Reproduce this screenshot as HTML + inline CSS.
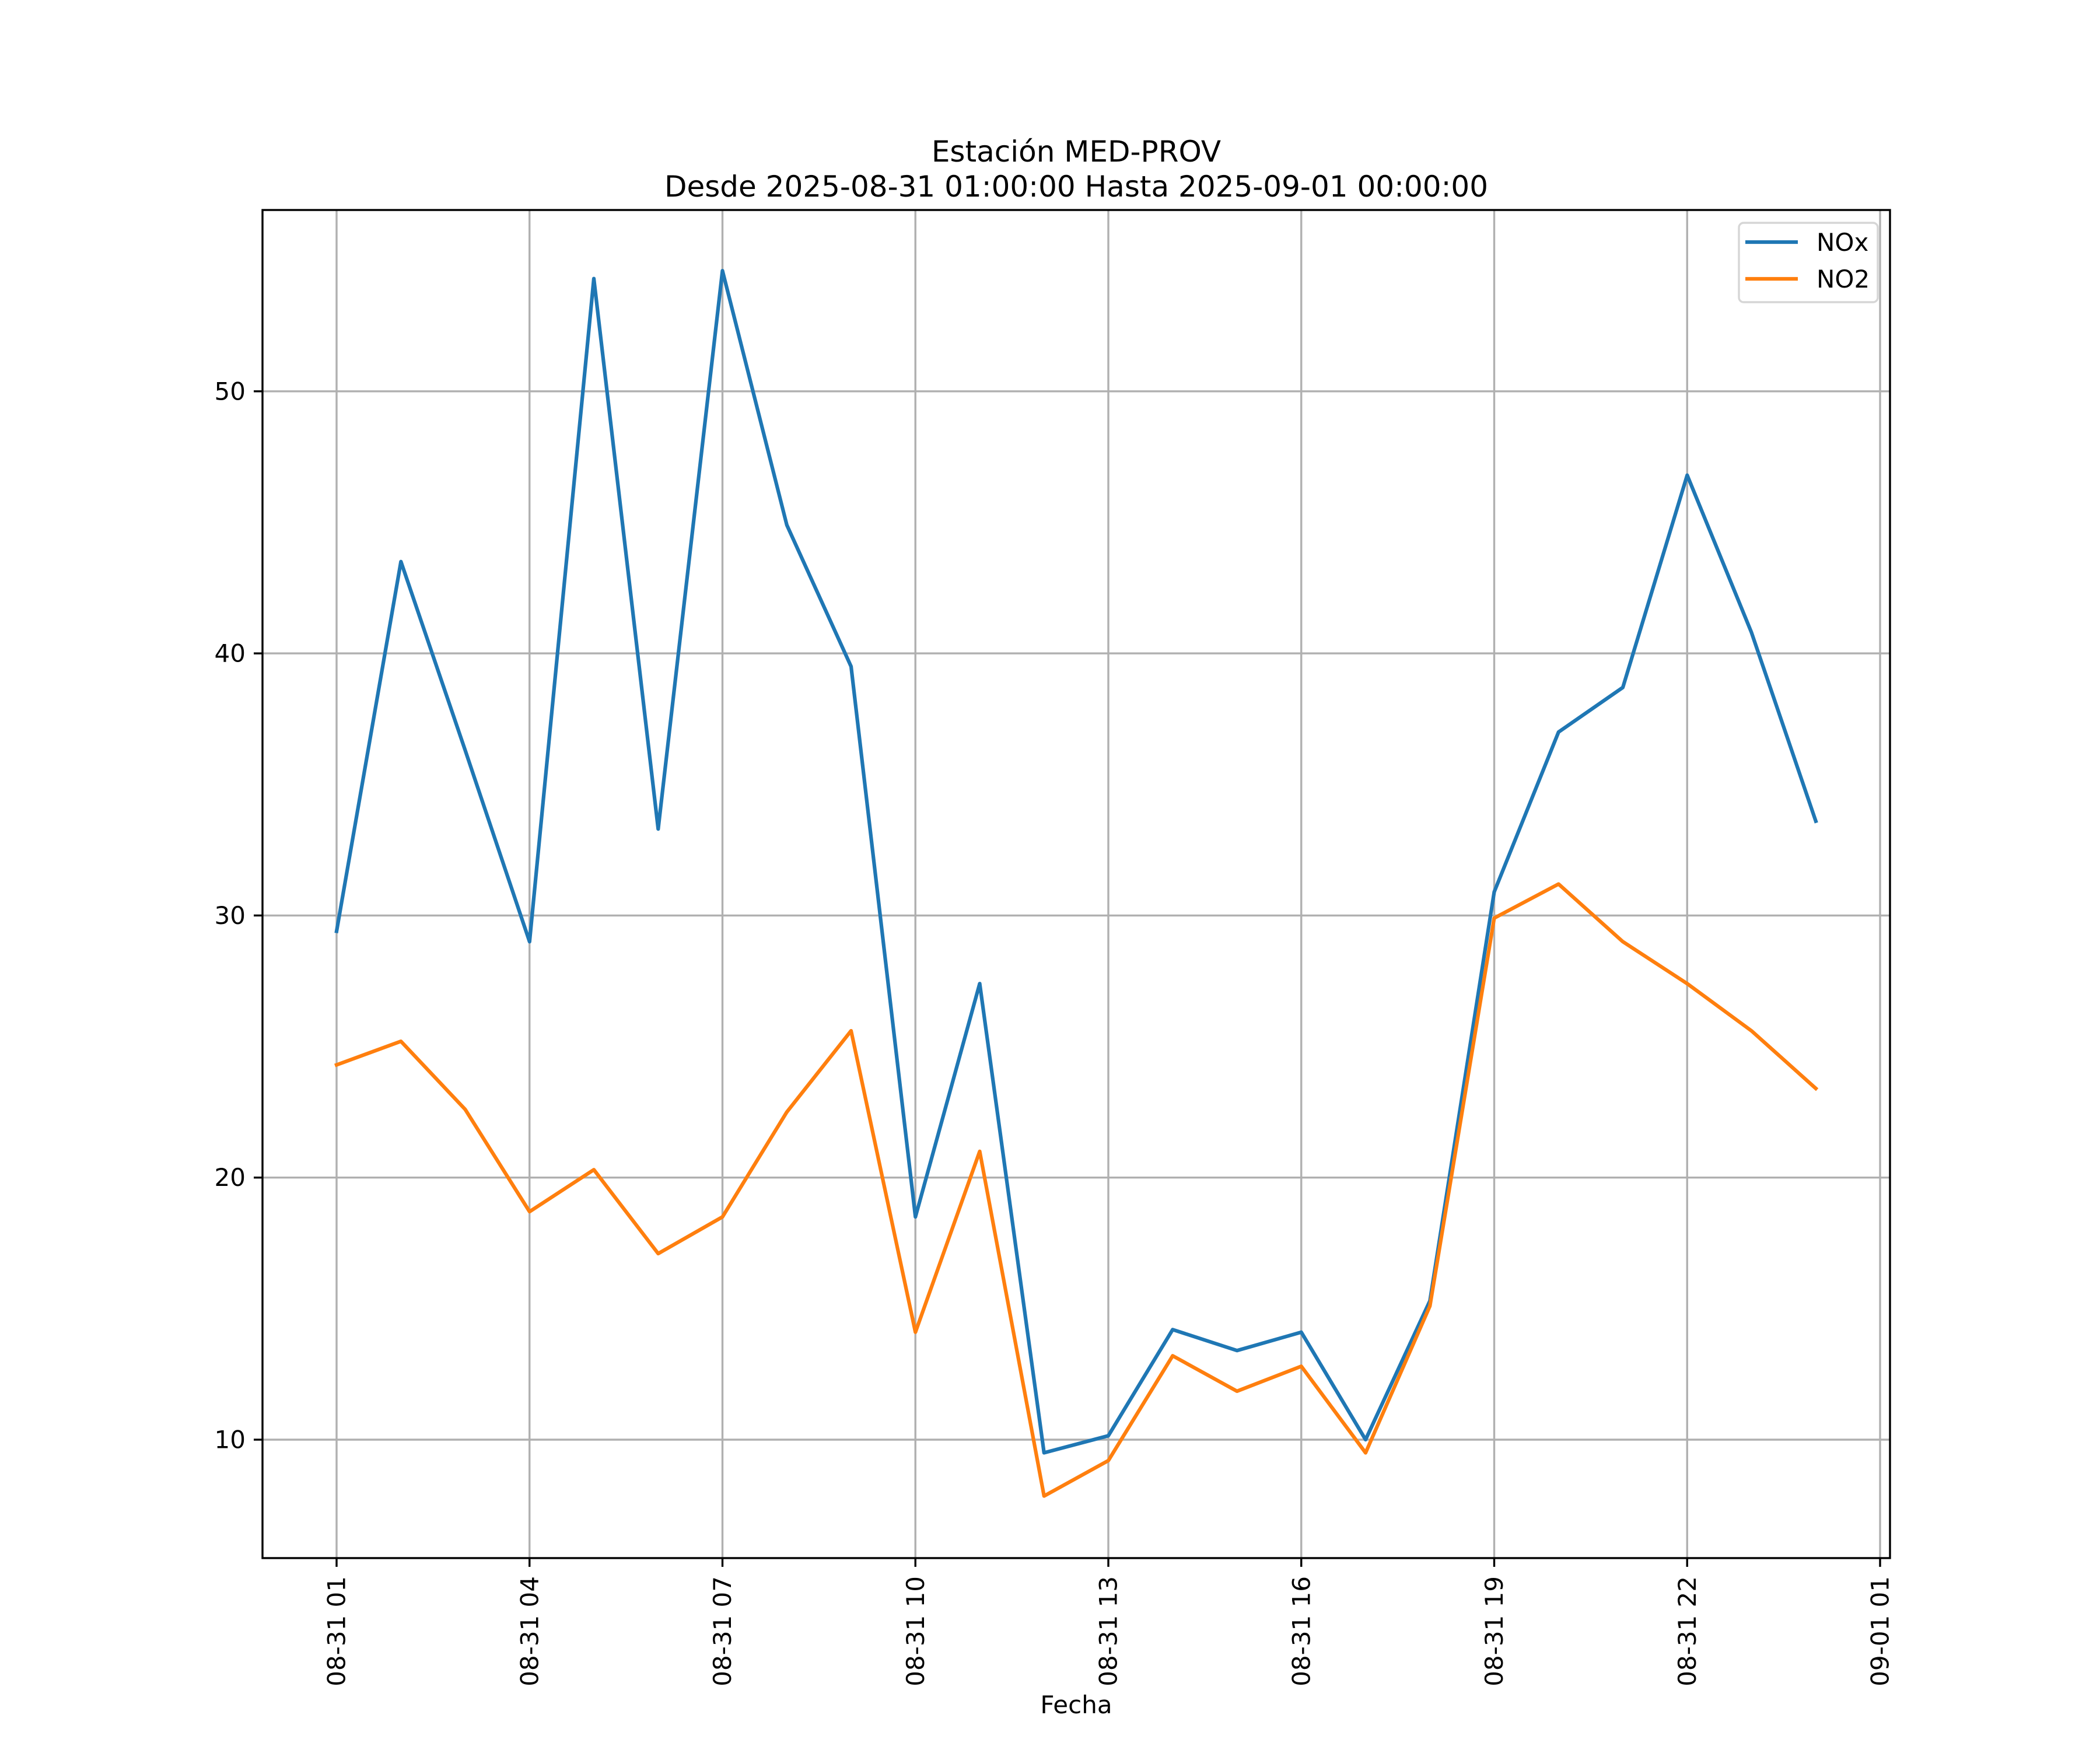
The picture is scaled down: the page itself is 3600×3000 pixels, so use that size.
<!DOCTYPE html>
<html><head><meta charset="utf-8"><style>
html,body{margin:0;padding:0;background:#fff}
svg{display:block;font-family:"DejaVu Sans","Liberation Sans",sans-serif}
</style></head><body>
<svg id="chart" width="3600" height="3000" viewBox="0 0 3600 3000">
<rect width="3600" height="3000" fill="#fff"/>
<text x="1845" y="277" font-size="50" text-anchor="middle">Estación MED-PROV</text>
<text x="1845" y="337" font-size="50" text-anchor="middle">Desde 2025-08-31 01:00:00 Hasta 2025-09-01 00:00:00</text>
<g id="grid"></g>
<g id="series"></g>
<rect x="450" y="360" width="2790" height="2311" fill="none" stroke="#000" stroke-width="3.4"/>
<g id="ticks"></g>
<text x="1845" y="2937" font-size="42" text-anchor="middle">Fecha</text>
<g>
<rect x="2981" y="382" width="238" height="136" rx="8" fill="#fff" fill-opacity="0.8" stroke="#d6d6d6" stroke-width="3.4"/>
<line x1="2992" y1="415" x2="3082" y2="415" stroke="#1f77b4" stroke-width="6.25"/>
<text x="3114" y="430" font-size="42">NOx</text>
<line x1="2992" y1="478" x2="3082" y2="478" stroke="#ff7f0e" stroke-width="6.25"/>
<text x="3114" y="493" font-size="42">NO2</text>
</g>
</svg>
<script>
const hours = ["01","02","03","04","05","06","07","08","09","10","11","12","13","14","15","16","17","18","19","20","21","22","23","00"];
const noxValues = [29.4,43.5,36.3,29.0,54.3,33.3,54.6,44.9,39.5,18.5,27.4,9.5,10.15,14.2,13.4,14.1,10.0,15.3,30.9,37.0,38.7,46.8,40.8,33.6];
const no2Values = [24.3,25.2,22.6,18.7,20.3,17.1,18.5,22.5,25.6,14.1,21.0,7.85,9.2,13.2,11.85,12.8,9.5,15.1,29.9,31.2,29.0,27.4,25.6,23.4];
const yTicks = [10,20,30,40,50];
const xTickIndex = [0,3,6,9,12,15,18,21,24];
const xTickLabels = ["08-31 01","08-31 04","08-31 07","08-31 10","08-31 13","08-31 16","08-31 19","08-31 22","09-01 01"];

const NS = "http://www.w3.org/2000/svg";
const BOTTOM = 2671;
const xScale = i => 577 + i * (3223 - 577) / 24;
const yScale = v => 2468 - (v - 10) * 44.93;
function mk(tag, attrs, parent) {
  const e = document.createElementNS(NS, tag);
  for (const k in attrs) e.setAttribute(k, attrs[k]);
  parent.appendChild(e);
  return e;
}
const grid = document.getElementById("grid");
const ticks = document.getElementById("ticks");
const series = document.getElementById("series");

yTicks.forEach(v => {
  const y = yScale(v);
  const g = mk("line", {x1:450, x2:3240, y1:y, y2:y, stroke:"#b0b0b0", "stroke-width":3.4}, grid);
  
  
  const t = mk("line", {x1:435, x2:450, y1:y, y2:y, stroke:"#000", "stroke-width":3.4}, ticks);
  
  
  const l = mk("text", {x:421, y:y, "font-size":42, "text-anchor":"end", "dominant-baseline":"central"}, ticks);
  l.textContent = v;
  
  
});
xTickIndex.forEach((i, k) => {
  const x = xScale(i);
  const g = mk("line", {x1:x, x2:x, y1:360, y2:BOTTOM, stroke:"#b0b0b0", "stroke-width":3.4}, grid);
  
  
  const t = mk("line", {x1:x, x2:x, y1:BOTTOM, y2:BOTTOM + 15, stroke:"#000", "stroke-width":3.4}, ticks);
  
  
  const ly = BOTTOM + 31;
  const l = mk("text", {x:x, y:ly, "font-size":42, "text-anchor":"end", "dominant-baseline":"central", transform:`rotate(-90 ${x} ${ly})`}, ticks);
  l.textContent = xTickLabels[k];
  
  
});
function drawLine(vals, color, name) {
  const pts = vals.map((v, i) => xScale(i).toFixed(1) + "," + yScale(v).toFixed(1)).join(" ");
  const p = mk("polyline", {points:pts, fill:"none", stroke:color, "stroke-width":6.25, "stroke-linejoin":"round", "stroke-linecap":"square"}, series);
  
  
}
drawLine(noxValues, "#1f77b4", "nox-line");
drawLine(no2Values, "#ff7f0e", "no2-line");
</script>
</body></html>
